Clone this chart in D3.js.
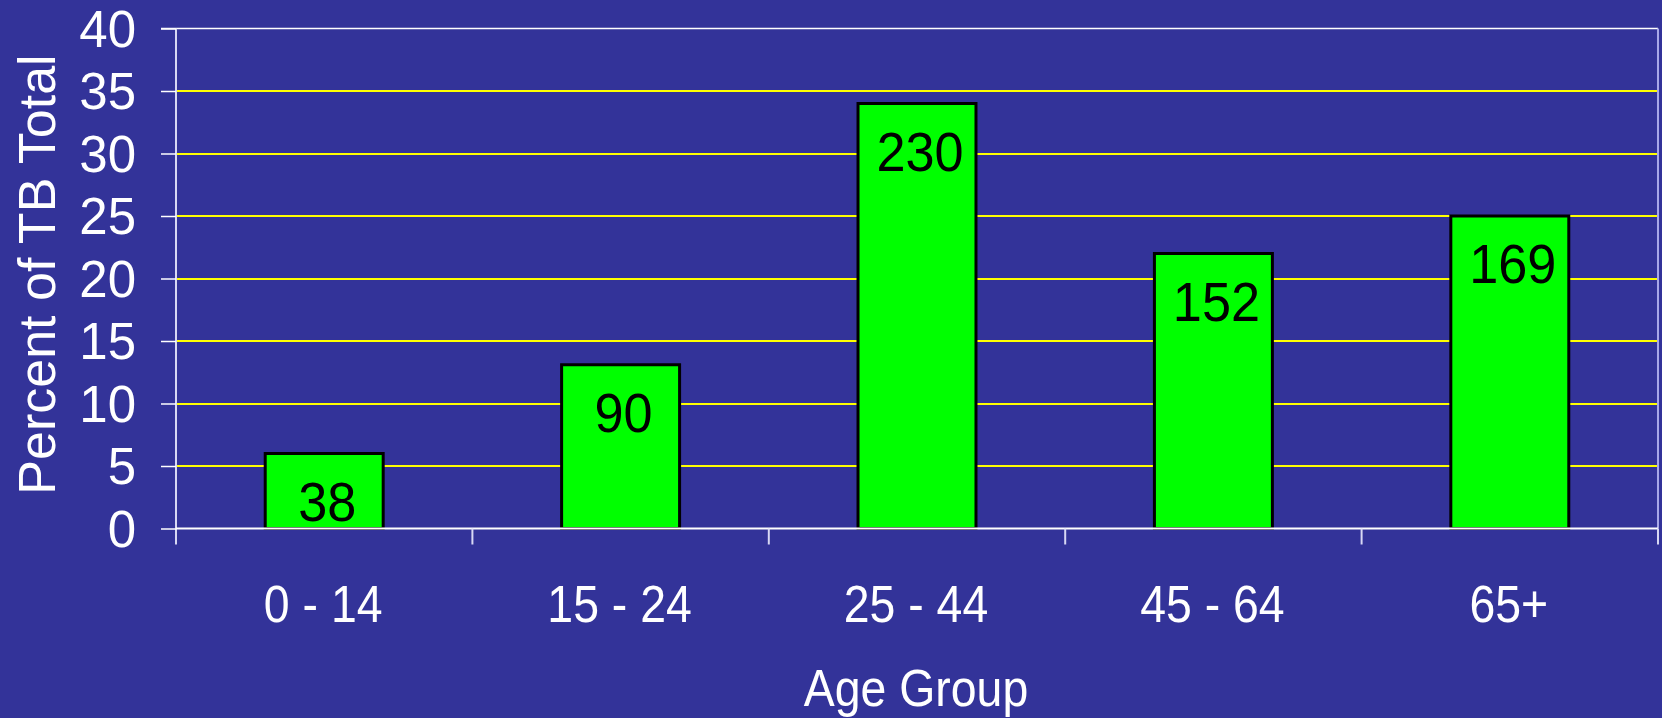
<!DOCTYPE html>
<html>
<head>
<meta charset="utf-8">
<script src="https://cdn.jsdelivr.net/npm/d3@7"></script>
<style>
  html, body { margin: 0; padding: 0; background: #333399; }
  svg { display: block; }
  text { font-family: "Liberation Sans", Arial, sans-serif; }
</style>
</head>
<body>
<svg id="chart" width="1662" height="718"></svg>
<script>
const categories = ["0 - 14", "15 - 24", "25 - 44", "45 - 64", "65+"];
const percentValues = [6.0, 13.1, 34.0, 22.0, 25.0];
const caseCounts = ["38", "90", "230", "152", "169"];
const yTicks = [0, 5, 10, 15, 20, 25, 30, 35, 40];
const yTitle = "Percent of TB Total";
const xTitle = "Age Group";

const svg = d3.select("#chart");
const W = 1662, H = 718;
svg.append("rect").attr("width", W).attr("height", H).attr("fill", "#333399");

const plotLeft = 176, plotRight = 1658, plotTop = 28.5, plotBottom = 528.5;

const x = d3.scaleBand().domain(categories).range([plotLeft, plotRight]).paddingInner(0).paddingOuter(0);
const y = d3.scaleLinear().domain([0, 40]).range([plotBottom, plotTop]);

// gridlines
svg.append("g").selectAll("line").data(yTicks.filter(t => t > 0 && t < 40)).join("line")
  .attr("x1", plotLeft).attr("x2", plotRight)
  .attr("y1", d => Math.round(y(d))).attr("y2", d => Math.round(y(d)))
  .attr("stroke", "#ffff00").attr("stroke-width", 2);

// top border
svg.append("line").attr("x1", 161).attr("x2", plotRight).attr("y1", y(40)).attr("y2", y(40))
  .attr("stroke", "#ffffff").attr("stroke-width", 1.5);
// right border
svg.append("line").attr("x1", plotRight).attr("x2", plotRight).attr("y1", y(40)).attr("y2", plotBottom)
  .attr("stroke", "#a8a8e8").attr("stroke-width", 2);

// bars
const bw = x.bandwidth() * 0.398;
svg.append("g").selectAll("rect").data(categories).join("rect")
  .attr("x", (d) => x(d) + x.bandwidth() / 2 - bw / 2)
  .attr("y", (d, i) => y(percentValues[i]))
  .attr("width", bw)
  .attr("height", (d, i) => y(0) - y(percentValues[i]))
  .attr("fill", "#00ff00")
  .attr("stroke", "#000000")
  .attr("stroke-width", 3);

// bar labels
svg.append("g").selectAll("text").data(categories).join("text")
  .attr("transform", (d, i) => `translate(${x(d) + x.bandwidth() / 2 + 3},${y(percentValues[i]) + 67}) scale(0.95,1)`)
  .attr("text-anchor", "middle")
  .attr("font-size", 55)
  .attr("fill", "#000000")
  .text((d, i) => caseCounts[i]);

// y axis
const yAxis = d3.axisLeft(y).tickValues(yTicks).tickSize(15).tickPadding(25).tickFormat(d3.format("d"));
const gy = svg.append("g").attr("transform", `translate(${plotLeft},0)`).call(yAxis);
gy.select(".domain").attr("stroke", "#d8d8f4").attr("stroke-width", 2)
  .attr("d", `M0,${plotTop}V${plotBottom + 16}`);
gy.selectAll(".tick line").attr("stroke", "#ffffff").attr("stroke-width", 1.5);
gy.selectAll(".tick text").attr("fill", "#ffffff").attr("font-size", 51)
  .attr("font-family", "Liberation Sans, Arial, sans-serif")
  .attr("dy", "0.35em");

// x axis
const xAxis = d3.axisBottom(x).tickSize(0).tickPadding(0);
const gx = svg.append("g").attr("transform", `translate(0,${plotBottom})`).call(xAxis);
gx.select(".domain").attr("stroke", "#ffffff").attr("stroke-width", 2)
  .attr("d", `M${plotLeft},0H${plotRight}`);
gx.selectAll(".tick text").attr("fill", "#ffffff").attr("font-size", 51)
  .attr("font-family", "Liberation Sans, Arial, sans-serif")
  .attr("y", 0).attr("dy", 0)
  .attr("transform", "translate(-1,93) scale(0.91,1)");

// category separator ticks
const bounds = categories.slice(1).map(c => x(c)).concat([plotRight]);
svg.append("g").selectAll("line").data(bounds).join("line")
  .attr("x1", d => d).attr("x2", d => d)
  .attr("y1", plotBottom).attr("y2", plotBottom + 16)
  .attr("stroke", "#d8d8f4").attr("stroke-width", 2);

// titles
svg.append("text")
  .attr("transform", `translate(55,${(plotTop + plotBottom) / 2 - 4}) rotate(-90)`)
  .attr("text-anchor", "middle")
  .attr("font-size", 52)
  .attr("fill", "#ffffff")
  .text(yTitle);

svg.append("text")
  .attr("transform", `translate(${(plotLeft + plotRight) / 2 - 1},706) scale(0.91,1)`)
  .attr("text-anchor", "middle")
  .attr("font-size", 51)
  .attr("fill", "#ffffff")
  .text(xTitle);
</script>
</body>
</html>
